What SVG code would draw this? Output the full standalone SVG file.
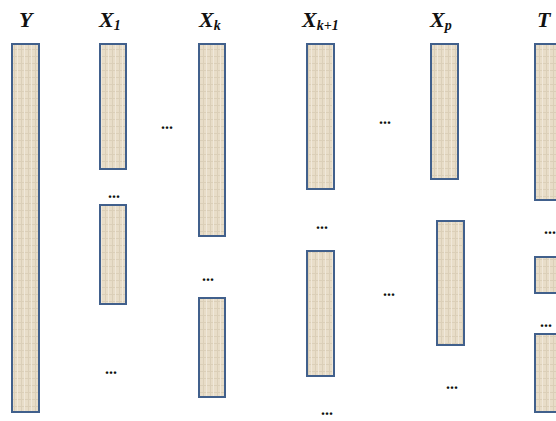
<svg xmlns="http://www.w3.org/2000/svg" width="556" height="421" viewBox="0 0 556 421">
<defs>
<pattern id="tex" width="7" height="7" patternUnits="userSpaceOnUse">
<rect width="7" height="7" fill="#e8ddc8"/>
<path d="M0 0.5H7M0.5 0V7" stroke="#dbcfb8" stroke-width="1"/>
<path d="M3.5 0V7" stroke="#f0e8da" stroke-width="1"/>
</pattern>
<style>
.bar{fill:url(#tex);stroke:#41608c;stroke-width:2}
.lbl{font-family:"Liberation Serif",serif;font-weight:bold;font-style:italic;font-size:22px;fill:#111}
.sub{font-size:14px}
.dots{font-family:"Liberation Serif",serif;font-weight:bold;font-size:16px;fill:#111;text-anchor:middle}
</style>
</defs>
<rect width="556" height="421" fill="#fff"/>
<g id="labels">
<text class="lbl" x="19" y="27">Y</text>
<text class="lbl" x="99" y="27">X<tspan class="sub" dy="3">1</tspan></text>
<text class="lbl" x="199" y="27">X<tspan class="sub" dy="3">k</tspan></text>
<text class="lbl" x="302" y="27">X<tspan class="sub" dy="3">k+1</tspan></text>
<text class="lbl" x="430" y="27">X<tspan class="sub" dy="3">p</tspan></text>
<text class="lbl" x="537" y="27">T</text>
</g>
<g id="Y"><rect class="bar" x="12" y="44" width="27" height="368"/></g>
<g id="X1">
<rect class="bar" x="100" y="44" width="26" height="125"/>
<rect class="bar" x="100" y="205" width="26" height="99"/>
</g>
<g id="Xk">
<rect class="bar" x="199" y="44" width="26" height="192"/>
<rect class="bar" x="199" y="298" width="26" height="99"/>
</g>
<g id="Xk1">
<rect class="bar" x="307" y="44" width="27" height="145"/>
<rect class="bar" x="307" y="251" width="27" height="125"/>
</g>
<g id="Xp">
<rect class="bar" x="431" y="44" width="27" height="135"/>
<rect class="bar" x="437" y="221" width="27" height="124"/>
</g>
<g id="T">
<rect class="bar" x="535" y="44" width="30" height="156"/>
<rect class="bar" x="535" y="257" width="30" height="36"/>
<rect class="bar" x="535" y="334" width="30" height="78"/>
</g>
<g id="ellipses">
<text class="dots" x="167" y="129">...</text>
<text class="dots" x="114" y="198">...</text>
<text class="dots" x="111" y="374">...</text>
<text class="dots" x="208" y="281">...</text>
<text class="dots" x="322" y="229">...</text>
<text class="dots" x="327" y="415">...</text>
<text class="dots" x="385" y="124">...</text>
<text class="dots" x="389" y="296">...</text>
<text class="dots" x="452" y="389">...</text>
<text class="dots" x="550" y="234">...</text>
<text class="dots" x="546" y="327">...</text>
</g>
</svg>
